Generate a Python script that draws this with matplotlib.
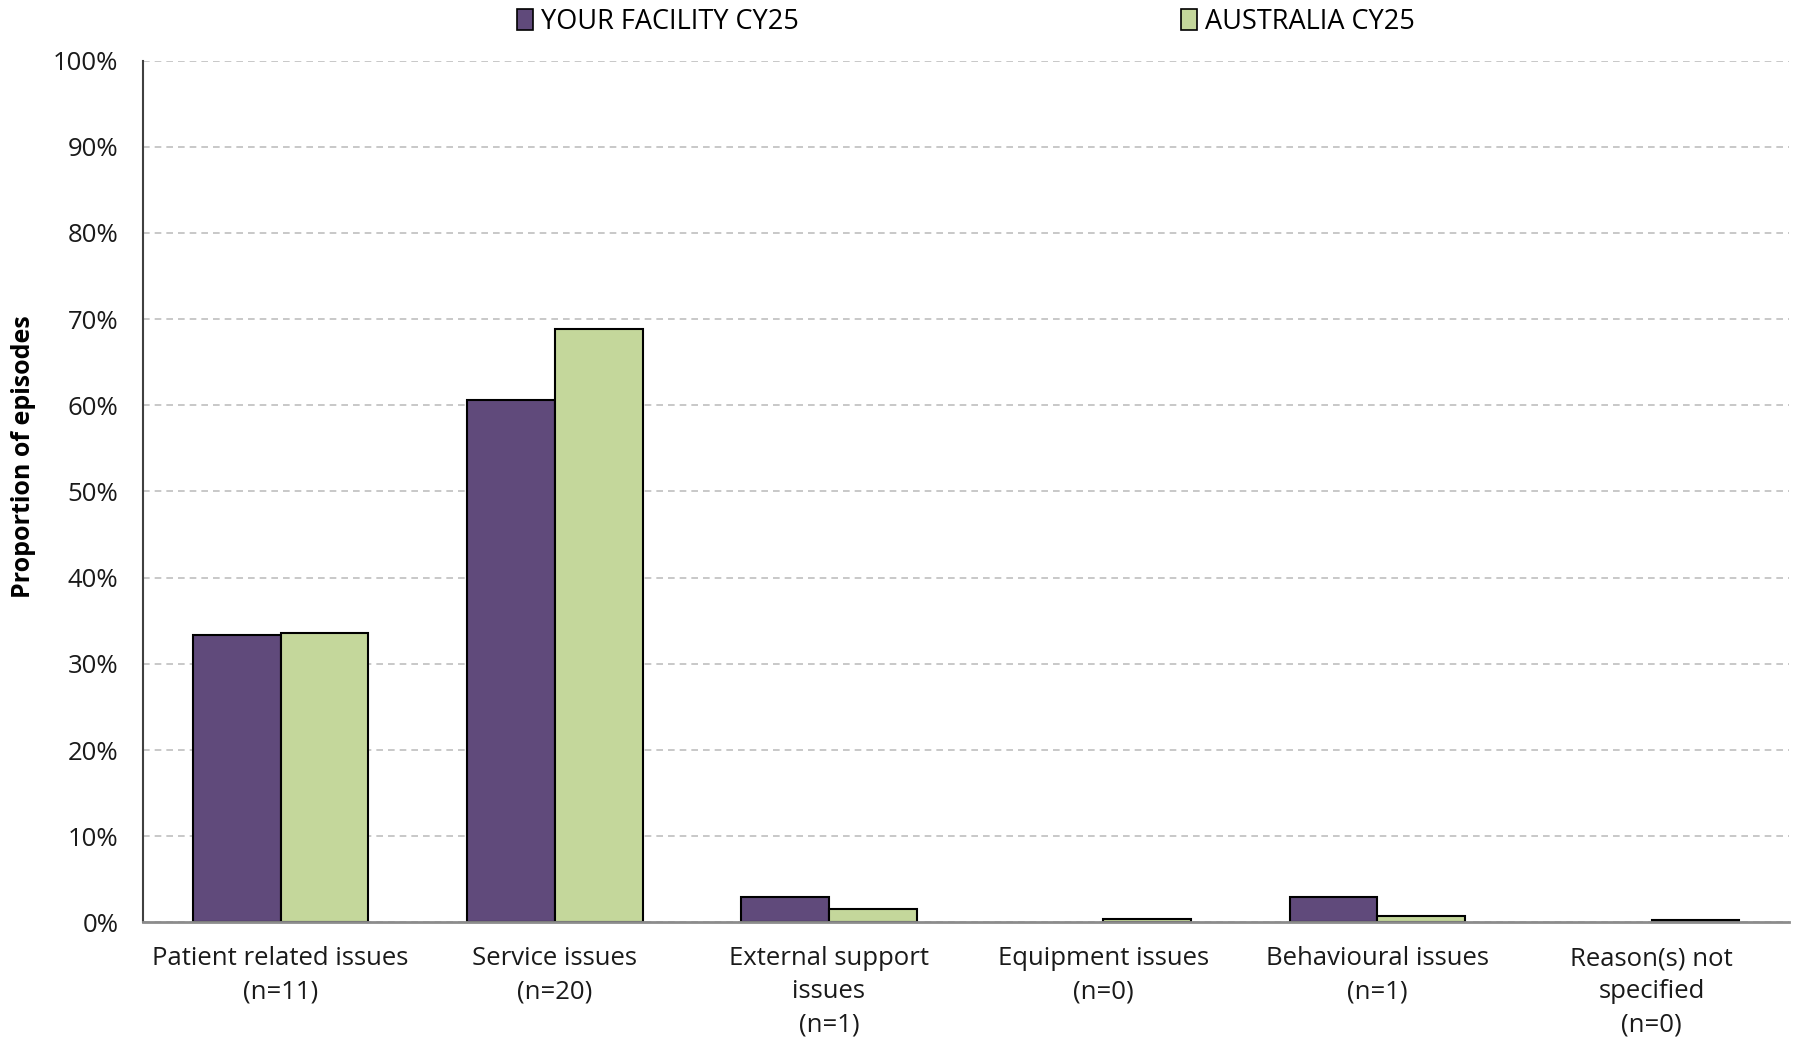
import matplotlib
matplotlib.use("Agg")
import matplotlib.pyplot as plt
import numpy as np
from matplotlib.patches import Patch
from matplotlib.ticker import FuncFormatter

plt.rcParams['font.family'] = ['Open Sans', 'DejaVu Sans']

categories = ["Patient related issues\n(n=11)", "Service issues\n(n=20)",
              "External support\nissues\n(n=1)", "Equipment issues\n(n=0)",
              "Behavioural issues\n(n=1)", "Reason(s) not\nspecified\n(n=0)"]
facility = [33.3, 60.6, 3.0, 0.0, 3.0, 0.0]
australia = [33.6, 68.8, 1.6, 0.45, 0.7, 0.25]
series_names = ["YOUR FACILITY CY25", "AUSTRALIA CY25"]
yticks = [0, 10, 20, 30, 40, 50, 60, 70, 80, 90, 100]

c_fac = "#604A7B"
c_aus = "#C4D79B"
fs = 18.5

fig = plt.figure(figsize=(18, 10.38), dpi=100)
ax = fig.add_axes([0.0797, 0.1113, 0.9140, 0.8304])

x = np.arange(len(categories))
w = 0.32
ec_fac = ["black" if v > 0 else "none" for v in facility]
ec_aus = ["black" if v > 0 else "none" for v in australia]
ax.bar(x - w/2, facility, width=w, color=c_fac, edgecolor=ec_fac, linewidth=1.5, zorder=3)
ax.bar(x + w/2, australia, width=w, color=c_aus, edgecolor=ec_aus, linewidth=1.5, zorder=3)

ax.set_xlim(-0.5, len(categories) - 0.5)
ax.set_ylim(0, 100)
ax.set_yticks(yticks)
ax.yaxis.set_major_formatter(FuncFormatter(lambda v, p: f"{int(v)}%"))
ax.yaxis.grid(True, linestyle=(0, (4, 3)), color="#BFBFBF", linewidth=1.2, zorder=0)
ax.set_axisbelow(True)

ax.set_xticks(x)
ax.set_xticklabels(categories, fontsize=fs, linespacing=1.42, color="#1a1a1a")
ax.tick_params(axis='x', length=0, pad=17)
ax.tick_params(axis='y', length=0, pad=18, labelsize=fs, labelcolor="#1a1a1a")

for s in ["top", "right"]:
    ax.spines[s].set_visible(False)
ax.spines["left"].set_color("#404040")
ax.spines["left"].set_linewidth(1.5)
ax.spines["bottom"].set_color("#8C8C8C")
ax.spines["bottom"].set_linewidth(2)
ax.spines["bottom"].set_zorder(4)

ax.set_ylabel("Proportion of episodes", fontsize=18, fontweight="bold", color="black")
ax.yaxis.set_label_coords(-0.0655, 0.54)

h1 = Patch(facecolor=c_fac, edgecolor="black", linewidth=1.2)
h2 = Patch(facecolor=c_aus, edgecolor="black", linewidth=1.2)
kw = dict(frameon=False, fontsize=19.5, handlelength=0.6, handleheight=0.8,
          handletextpad=0.3, borderaxespad=0, borderpad=0)
fig.legend([h1], [series_names[0]], loc="center left", bbox_to_anchor=(0.287, 0.979), **kw)
fig.legend([h2], [series_names[1]], loc="center left", bbox_to_anchor=(0.656, 0.979), **kw)

fig.savefig("out.png", dpi=100)
